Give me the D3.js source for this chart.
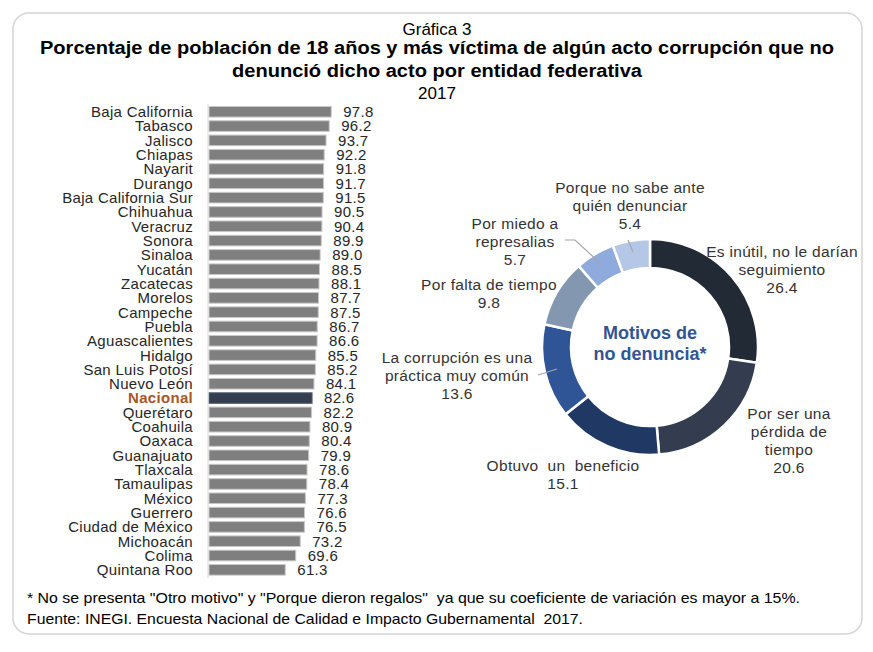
<!DOCTYPE html>
<html><head><meta charset="utf-8">
<script src="https://cdn.jsdelivr.net/npm/d3@7"></script>
<style>body{margin:0;background:#fff}svg{display:block;font-family:"Liberation Sans",Arial,sans-serif}</style>
</head><body><svg id="c" width="873" height="652"></svg>
<script>
const states = ["Baja California","Tabasco","Jalisco","Chiapas","Nayarit","Durango","Baja California Sur","Chihuahua","Veracruz","Sonora","Sinaloa","Yucatán","Zacatecas","Morelos","Campeche","Puebla","Aguascalientes","Hidalgo","San Luis Potosí","Nuevo León","Nacional","Querétaro","Coahuila","Oaxaca","Guanajuato","Tlaxcala","Tamaulipas","México","Guerrero","Ciudad de México","Michoacán","Colima","Quintana Roo"];
const stateValues = [97.8,96.2,93.7,92.2,91.8,91.7,91.5,90.5,90.4,89.9,89.0,88.5,88.1,87.7,87.5,86.7,86.6,85.5,85.2,84.1,82.6,82.2,80.9,80.4,79.9,78.6,78.4,77.3,76.6,76.5,73.2,69.6,61.3];
const motives = ["Es inútil, no le darían seguimiento","Por ser una pérdida de tiempo","Obtuvo un beneficio","La corrupción es una práctica muy común","Por falta de tiempo","Por miedo a represalias","Porque no sabe ante quién denunciar"];
const motiveValues = [26.4,20.6,15.1,13.6,9.8,5.7,5.4];
const motiveLabelLines = [["Es inútil, no le darían","seguimiento"],["Por ser una","pérdida de","tiempo"],["Obtuvo  un  beneficio"],["La corrupción es una","práctica muy común"],["Por falta de tiempo"],["Por miedo a","represalias"],["Porque no sabe ante","quién denunciar"]];
const motiveColors = ["#222a36","#333d4f","#203864","#2f5597","#8497b0","#8faadc","#b4c7e7"];

const svg = d3.select("#c");
// frame
svg.append("rect").attr("x",13).attr("y",13).attr("width",849).attr("height",621).attr("rx",16)
  .attr("fill","none").attr("stroke","#d4d4d4").attr("stroke-width",1.5);

// titles
const T = svg.append("g").attr("text-anchor","middle").attr("fill","#000");
T.append("text").attr("x",437).attr("y",35).attr("font-size",17).text("Gráfica 3");
T.append("text").attr("x",437).attr("y",54).attr("font-size",18).attr("font-weight","bold")
  .attr("textLength",794).attr("lengthAdjust","spacingAndGlyphs")
  .text("Porcentaje de población de 18 años y más víctima de algún acto corrupción que no");
T.append("text").attr("x",437).attr("y",77).attr("font-size",18).attr("font-weight","bold")
  .attr("textLength",410).attr("lengthAdjust","spacingAndGlyphs")
  .text("denunció dicho acto por entidad federativa");
T.append("text").attr("x",437).attr("y",99).attr("font-size",17).text("2017");

// bar chart
const x = d3.scaleLinear().domain([0,100]).range([208,334]);
const y = d3.scaleBand().domain(states).range([104.6,577]).paddingInner(0.26).paddingOuter(0.13);
const bars = svg.append("g");
bars.selectAll("rect").data(states).join("rect")
  .attr("x",x(0)+1).attr("y",d=>y(d)).attr("height",y.bandwidth())
  .attr("width",(d,i)=>x(stateValues[i])-x(0)-1)
  .attr("fill",d=>d==="Nacional"?"#333f50":"#7f7f7f")
  .attr("stroke",d=>d==="Nacional"?"#5a6577":"#c8c8c8").attr("stroke-width",1);
svg.append("line").attr("x1",x(0)).attr("x2",x(0)).attr("y1",104).attr("y2",578)
  .attr("stroke","#d9d9d9").attr("stroke-width",1);
bars.selectAll("text.cat").data(states).join("text").attr("class","cat")
  .attr("x",193).attr("y",d=>y(d)+y.bandwidth()/2).attr("dy","0.36em")
  .attr("text-anchor","end").attr("font-size",15).attr("letter-spacing",0.3)
  .attr("fill",d=>d==="Nacional"?"#a9561f":"#262626")
  .attr("font-weight",d=>d==="Nacional"?"bold":"normal").text(d=>d);
bars.selectAll("text.val").data(states).join("text").attr("class","val")
  .attr("x",(d,i)=>x(stateValues[i])+12).attr("y",d=>y(d)+y.bandwidth()/2).attr("dy","0.36em")
  .attr("font-size",15).attr("letter-spacing",0.3).attr("fill","#262626").text((d,i)=>stateValues[i].toFixed(1));

// donut
const cx=650, cy=347, R=108, r0=79;
const pie = d3.pie().sort(null).value(d=>d)(motiveValues);
const arc = d3.arc().innerRadius(r0).outerRadius(R);
const D = svg.append("g").attr("transform",`translate(${cx},${cy})`);
D.selectAll("path").data(pie).join("path").attr("d",arc)
  .attr("fill",(d,i)=>motiveColors[i]).attr("stroke","#fff").attr("stroke-width",2.5);
D.append("text").attr("text-anchor","middle").attr("y",-8).attr("font-size",18).attr("font-weight","bold")
  .attr("fill","#2f5597").text("Motivos de");
D.append("text").attr("text-anchor","middle").attr("y",13).attr("font-size",18).attr("font-weight","bold")
  .attr("fill","#2f5597").text("no denuncia*");

// label layout (center of first line, relative to donut center)
const labelPos = [[132,-96],[139,66],[-87,118],[-193,10],[-161,-63],[-135,-124],[-20,-160]];
const L = svg.append("g").attr("transform",`translate(${cx},${cy})`).attr("fill","#333").attr("font-size",15.5)
  .attr("letter-spacing",0.3).attr("text-anchor","middle");
motiveLabelLines.forEach((lines,i)=>{
  const t = L.append("text").attr("x",labelPos[i][0]).attr("y",labelPos[i][1]);
  lines.concat([motiveValues[i].toFixed(1)]).forEach((ln,j)=>{
    t.append("tspan").attr("x",labelPos[i][0]).attr("dy",j===0?"0.36em":18).attr("xml:space","preserve").text(ln);
  });
});
// leader lines
const lead = svg.append("g").attr("transform",`translate(${cx},${cy})`).attr("fill","none").attr("stroke","#a6a6a6").attr("stroke-width",1.2);
lead.append("path").attr("d","M-112,28 L-93,22");
lead.append("path").attr("d","M-85,-107 L-75,-107 L-50,-84");
lead.append("path").attr("d","M-22,-107 L-17,-95");

// footnote
const F = svg.append("g").attr("fill","#000").attr("font-size",15);
F.append("text").attr("x",27).attr("y",603).attr("textLength",773).attr("lengthAdjust","spacingAndGlyphs").attr("xml:space","preserve")
  .text('* No se presenta "Otro motivo" y "Porque dieron regalos"  ya que su coeficiente de variación es mayor a 15%.');
F.append("text").attr("x",27).attr("y",624).attr("textLength",556).attr("lengthAdjust","spacingAndGlyphs").attr("xml:space","preserve")
  .text("Fuente: INEGI. Encuesta Nacional de Calidad e Impacto Gubernamental  2017.");
</script></body></html>
